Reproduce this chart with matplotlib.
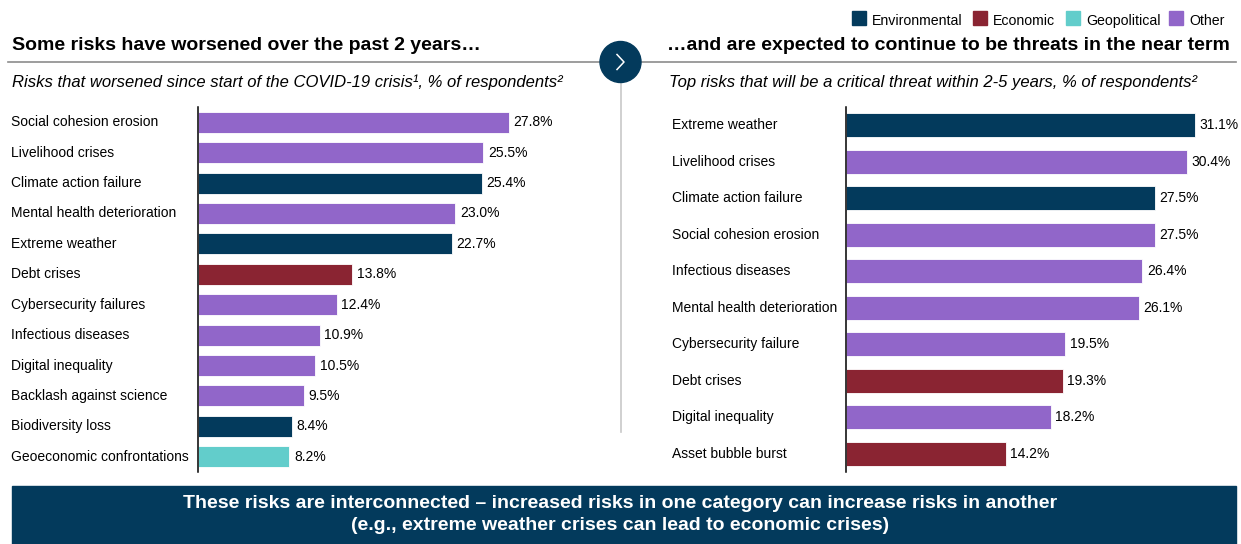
import matplotlib
matplotlib.use("Agg")
import matplotlib.pyplot as plt
from matplotlib import transforms
from matplotlib.patches import Circle, Rectangle

plt.rcParams['font.family'] = ['Liberation Sans', 'DejaVu Sans']

W, H = 1241, 544

NAVY = "#033a5c"
colors = {
    "Environmental": NAVY,
    "Economic": "#8a2432",
    "Geopolitical": "#62cdcb",
    "Other": "#9166c9",
}

# Риски, усилившиеся с начала кризиса
past_labels = [
    "Social cohesion erosion", "Livelihood crises", "Climate action failure",
    "Mental health deterioration", "Extreme weather", "Debt crises",
    "Cybersecurity failures", "Infectious diseases", "Digital inequality",
    "Backlash against science", "Biodiversity loss", "Geoeconomic confrontations",
]
past_values = [27.8, 25.5, 25.4, 23.0, 22.7, 13.8, 12.4, 10.9, 10.5, 9.5, 8.4, 8.2]
past_cats = ["Other", "Other", "Environmental", "Other", "Environmental", "Economic",
             "Other", "Other", "Other", "Other", "Environmental", "Geopolitical"]

# Риски на горизонте 2-5 лет
future_labels = [
    "Extreme weather", "Livelihood crises", "Climate action failure",
    "Social cohesion erosion", "Infectious diseases", "Mental health deterioration",
    "Cybersecurity failure", "Debt crises", "Digital inequality", "Asset bubble burst",
]
future_values = [31.1, 30.4, 27.5, 27.5, 26.4, 26.1, 19.5, 19.3, 18.2, 14.2]
future_cats = ["Environmental", "Other", "Environmental", "Other", "Other", "Other",
               "Other", "Economic", "Other", "Economic"]


def px_box(x0, y0, x1, y1):
    """пиксели (сверху вниз) -> доли фигуры"""
    return [x0 / W, 1 - y1 / H, (x1 - x0) / W, (y1 - y0) / H]


fig = plt.figure(figsize=(W / 100, H / 100), dpi=100)

# фоновый слой в пикселях для линий, заголовков и плашки
bg = fig.add_axes([0, 0, 1, 1])
bg.set_xlim(0, W)
bg.set_ylim(H, 0)
bg.axis("off")

bg.plot([8, 1236], [62, 62], color="#8c8c8c", lw=1.2, zorder=1)
bg.plot([620.5, 620.5], [62, 432], color="#c8c8c8", lw=1.2, zorder=1)
bg.add_patch(Circle((620.5, 62), 20.5, color=NAVY, zorder=3))
bg.plot([617, 624, 617], [54.5, 62, 69.5], color="white", lw=1.1, zorder=4)

bg.text(12, 46, "Some risks have worsened over the past 2 years…",
        fontsize=14, fontweight="bold", va="center", ha="left")
bg.text(1230, 46, "…and are expected to continue to be threats in the near term",
        fontsize=14, fontweight="bold", va="center", ha="right")
bg.text(12, 82, "Risks that worsened since start of the COVID-19 crisis¹, % of respondents²",
        fontsize=12, style="italic", va="center", ha="left")
bg.text(669, 82, "Top risks that will be a critical threat within 2-5 years, % of respondents²",
        fontsize=12, style="italic", va="center", ha="left")

# легенда
legend_x = [852, 973, 1066, 1169]
for lx, (name, col) in zip(legend_x, colors.items()):
    bg.add_patch(Rectangle((lx, 11), 14, 14, color=col))
    bg.text(lx + 20, 19.5, name, fontsize=10.2, va="center_baseline", ha="left")

# нижняя плашка
bg.add_patch(Rectangle((12, 486), 1224, 60, color=NAVY))
bg.text(620, 503, "These risks are interconnected – increased risks in one category can increase risks in another",
        fontsize=14, fontweight="bold", color="white", ha="center", va="center")
bg.text(620, 525, "(e.g., extreme weather crises can lead to economic crises)",
        fontsize=14, fontweight="bold", color="white", ha="center", va="center")

SCALE = 11.21  # пикселей на 1%


def draw_bars(x0, label_x, labels, values, cats, height):
    n = len(values)
    xmax = 34
    ax = fig.add_axes(px_box(x0, 107, x0 + SCALE * xmax, 472), facecolor="none")
    ax.barh(range(n), values, height=height, color=[colors[c] for c in cats],
            edgecolor="white", linewidth=0.6)
    ax.set_xlim(0, xmax)
    ax.set_ylim(n - 0.5, -0.5)
    for s in ["top", "right", "bottom"]:
        ax.spines[s].set_visible(False)
    ax.spines["left"].set_linewidth(1.1)
    ax.set_xticks([])
    ax.set_yticks([])
    trans = transforms.blended_transform_factory(fig.transFigure, ax.transData)
    for i, (lab, v) in enumerate(zip(labels, values)):
        ax.text(label_x / W, i, lab, transform=trans, fontsize=10, va="center", ha="left")
        ax.text(v + 0.4, i, f"{v:.1f}%", fontsize=10, va="center", ha="left")
    return ax


draw_bars(197.5, 11, past_labels, past_values, past_cats, 0.69)
draw_bars(846.5, 672, future_labels, future_values, future_cats, 0.67)

fig.savefig("out.png", dpi=100)
